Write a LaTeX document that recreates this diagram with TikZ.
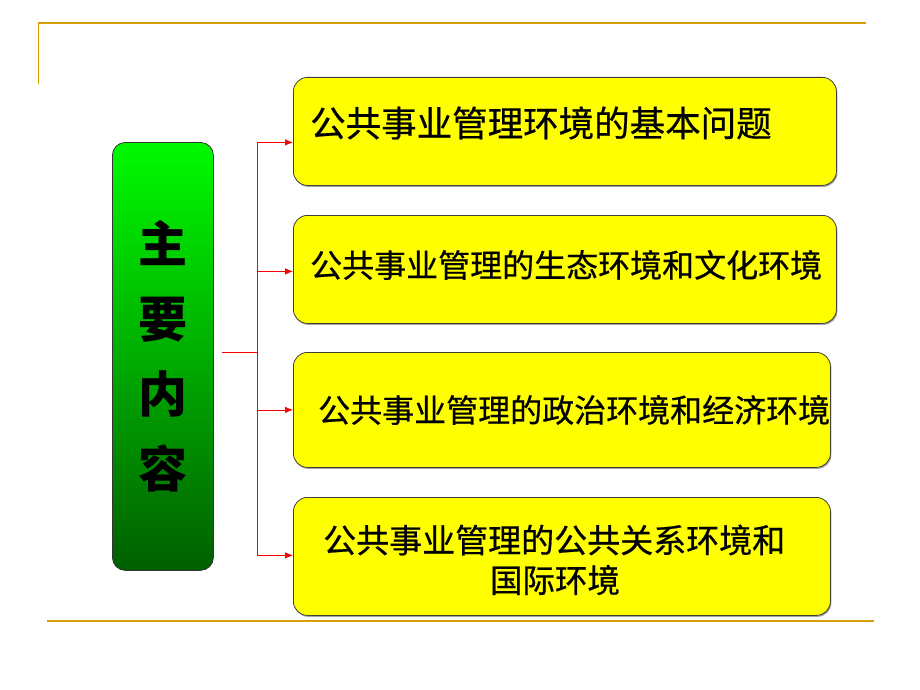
\documentclass[tikz,border=0pt]{standalone}
\usepackage{fontspec}
\setmainfont{Noto Sans CJK SC}
\newfontfamily\boxfont{Noto Sans CJK SC}[FakeBold=0.6]
\usetikzlibrary{arrows.meta,shadows}
\definecolor{gold}{RGB}{214,160,0}
\definecolor{gtop}{RGB}{0,250,0}
\definecolor{gmid}{RGB}{0,190,0}
\definecolor{gbot}{RGB}{0,95,0}
\definecolor{pureyellow}{RGB}{255,255,0}
\definecolor{purered}{RGB}{255,0,0}
\begin{document}
\begin{tikzpicture}[x=1pt,y=-1pt,
  goldline/.style={draw=gold, line width=2pt},
  topic/.style={draw=black!75, line width=0.8pt, fill=pureyellow, rounded corners=14pt, inner sep=0pt,
    drop shadow={shadow xshift=1pt, shadow yshift=-1.5pt, fill=black!60, opacity=0.6}},
  mainbox/.style={draw=black!80, line width=0.8pt, rounded corners=13pt, top color=gtop, middle color=gmid, bottom color=gbot, inner sep=0pt},
  link/.style={draw=purered, line width=0.8pt},
  arr/.style={link, -{Latex[length=8pt,width=6.5pt]}},
  label/.style={anchor=west, inner sep=0pt, text=black}]
\useasboundingbox (0,0) rectangle (920,690);
% decorative lines
\draw[goldline] (38,23) -- (866,23);
\draw[draw=gold, line width=1pt] (38,23) -- (38,84);
\draw[goldline] (47,621) -- (874,621);
% main box
\node[mainbox, minimum width=101pt, minimum height=428pt, anchor=north west] (main) at (112,142) {};
\node[inner sep=0pt, align=center, font=\bfseries\fontsize{49}{75}\selectfont] (mt) at (163,356) {主\\要\\内\\容};
% topic boxes
\node[topic, minimum width=543pt, minimum height=108pt, anchor=north west] (b1) at (293,77) {};
\node[topic, minimum width=543pt, minimum height=108pt, anchor=north west] (b2) at (293,215) {};
\node[topic, minimum width=537pt, minimum height=115pt, anchor=north west] (b3) at (293,352) {};
\node[topic, minimum width=537pt, minimum height=118pt, anchor=north west] (b4) at (293,497) {};
% texts
\node[label, font=\boxfont\fontsize{35.5}{40}\selectfont] (t1) at (310,123) {公共事业管理环境的基本问题};
\node[label, font=\boxfont\fontsize{32}{36}\selectfont] (t2) at (310,265) {公共事业管理的生态环境和文化环境};
\node[label, font=\boxfont\fontsize{32}{36}\selectfont] (t3) at (318,410) {公共事业管理的政治环境和经济环境};
\node[label, font=\boxfont\fontsize{33}{36}\selectfont] (t4) at (323,540) {公共事业管理的公共关系环境和};
\node[inner sep=0pt, font=\boxfont\fontsize{32.5}{36}\selectfont] (t5) at (555,580) {国际环境};
% connectors
\coordinate (j) at (257,352);
\coordinate (a1) at ([yshift=-11pt]b1.west);
\coordinate (a2) at ([yshift=-2pt]b2.west);
\coordinate (a3) at (b3.west);
\coordinate (a4) at ([yshift=1pt]b4.west);
\draw[link] ([xshift=8pt]main.east |- j) -- (j);
\draw[link] (j |- a1) -- (j |- a4);
\draw[arr] (j |- a1) -- (a1);
\draw[arr] (j |- a2) -- (a2);
\draw[arr] (j |- a3) -- (a3);
\draw[arr] (j |- a4) -- (a4);
\end{tikzpicture}
\end{document}
